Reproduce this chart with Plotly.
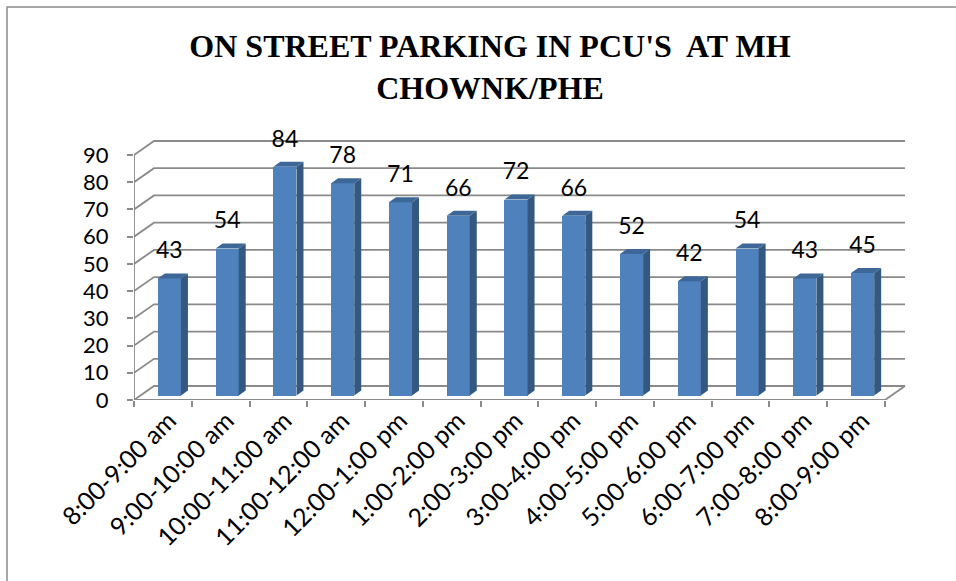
import plotly.graph_objects as go

# ---- data ----
categories = ["8:00-9:00 am", "9:00-10:00 am", "10:00-11:00 am", "11:00-12:00 am",
              "12:00-1:00 pm", "1:00-2:00 pm", "2:00-3:00 pm", "3:00-4:00 pm",
              "4:00-5:00 pm", "5:00-6:00 pm", "6:00-7:00 pm", "7:00-8:00 pm",
              "8:00-9:00 pm"]
pcu_values = [43, 54, 84, 78, 71, 66, 72, 66, 52, 42, 54, 43, 45]
y_ticks = [0, 10, 20, 30, 40, 50, 60, 70, 80, 90]
title_text = "ON STREET PARKING IN PCU'S  AT MH<br>CHOWNK/PHE"

# ---- styling / geometry ----
W, H = 956, 581
ML, MR, MT, MB = 134, 50, 100, 181
plot_w = W - ML - MR
plot_h = H - MT - MB
n = len(categories)
px_per_x = 751 / n            # pixels per category
px_per_y = 245 / 90           # pixels per value unit
x0 = -0.5
x_range = [x0, x0 + plot_w / px_per_x]
y_range = [0, plot_h / px_per_y]

DX = 20 / px_per_x            # back-wall depth offset
DY = 14 / px_per_y
ddx = 7 / px_per_x            # bar depth
ddy = 5 / px_per_y
offx = (20 - 7) / 2 / px_per_x
offy = (14 - 5) / 2 / px_per_y
bw = 0.4

GRID = "#8a8a8a"
FRONT = "#4F81BD"
SIDE = "#34587F"
TOP = "#3D6797"

fig = go.Figure()

shapes = []
xb_end = x0 + n + DX
for v in y_ticks:
    path = f"M {x0},{v} L {x0+DX},{v+DY} L {xb_end},{v+DY}"
    shapes.append(dict(type="path", path=path, xref="x", yref="y", layer="below",
                       line=dict(color=GRID, width=1.8)))
shapes.append(dict(type="path", path=f"M {x0},0 L {x0+n},0 L {x0+n+DX},{DY}",
                   xref="x", yref="y", layer="below", line=dict(color=GRID, width=1.8)))
shapes.append(dict(type="path", path=f"M {x0},0 L {x0},{y_ticks[-1]}",
                   xref="x", yref="y", layer="below", line=dict(color=GRID, width=1.8)))
# chart border (left and top)
bx = (7 - ML) / plot_w
by_top = (H - MB - 7) / plot_h
by_bot = -(MB) / plot_h
shapes.append(dict(type="path",
                   path=f"M {bx},{by_bot} L {bx},{by_top} L 1.2,{by_top}",
                   xref="paper", yref="paper", layer="below",
                   line=dict(color="#8c8c8c", width=1.5)))

xs = list(range(n))
fx = [x + offx for x in xs]

fig.add_trace(go.Bar(x=fx, y=pcu_values, base=[offy] * n, width=bw,
                     marker=dict(color=FRONT, line=dict(width=0)),
                     hoverinfo="skip", showlegend=False))

for x, v in zip(fx, pcu_values):
    top = v + offy
    r = x + bw / 2
    l = x - bw / 2
    fig.add_trace(go.Scatter(x=[r, r + ddx, r + ddx, r, r],
                             y=[offy, offy + ddy, top + ddy, top, offy],
                             mode="lines", fill="toself", fillcolor=SIDE,
                             line=dict(width=0, color=SIDE),
                             hoverinfo="skip", showlegend=False))
    fig.add_trace(go.Scatter(x=[l, r, r + ddx, l + ddx, l],
                             y=[top, top, top + ddy, top + ddy, top],
                             mode="lines", fill="toself", fillcolor=TOP,
                             line=dict(width=0, color=TOP),
                             hoverinfo="skip", showlegend=False))

lab_off = 26 / px_per_y
fig.add_trace(go.Scatter(x=fx, y=[v + offy + lab_off for v in pcu_values],
                         mode="text", text=[str(v) for v in pcu_values],
                         textposition="middle center",
                         textfont=dict(family="Lato", size=23, color="#000"),
                         hoverinfo="skip", showlegend=False, cliponaxis=False))

fig.update_layout(
    width=W, height=H,
    margin=dict(l=ML, r=MR, t=MT, b=MB, autoexpand=False),
    paper_bgcolor="white", plot_bgcolor="white",
    shapes=shapes,
    title=dict(text=title_text, x=490 / W, xanchor="center",
               y=1 - 57 / H, yanchor="top", yref="container",
               font=dict(family="Liberation Serif", size=32, color="#000", weight="bold")),
    xaxis=dict(range=x_range, tickmode="array", tickvals=xs, ticktext=categories,
               tickangle=-45, ticks="", showgrid=False, zeroline=False, showline=False,
               ticklabelshift=6,
               tickfont=dict(family="Lato", size=25, color="#000"),
               minor=dict(tickmode="array", tickvals=[x0 + i for i in range(n + 1)],
                          ticks="outside", ticklen=6, tickcolor=GRID, tickwidth=1.8,
                          showgrid=False)),
    yaxis=dict(range=y_range, tickmode="array", tickvals=y_ticks,
               ticks="outside", ticklen=6, tickcolor=GRID, tickwidth=1.8,
               ticklabelstandoff=14,
               showgrid=False, zeroline=False, showline=False,
               tickfont=dict(family="Lato", size=22, color="#000")),
    bargap=0,
)

fig.write_html("out.html", config={"displayModeBar": False},
               post_script="document.body.style.margin='0';document.body.style.overflow='hidden';")
